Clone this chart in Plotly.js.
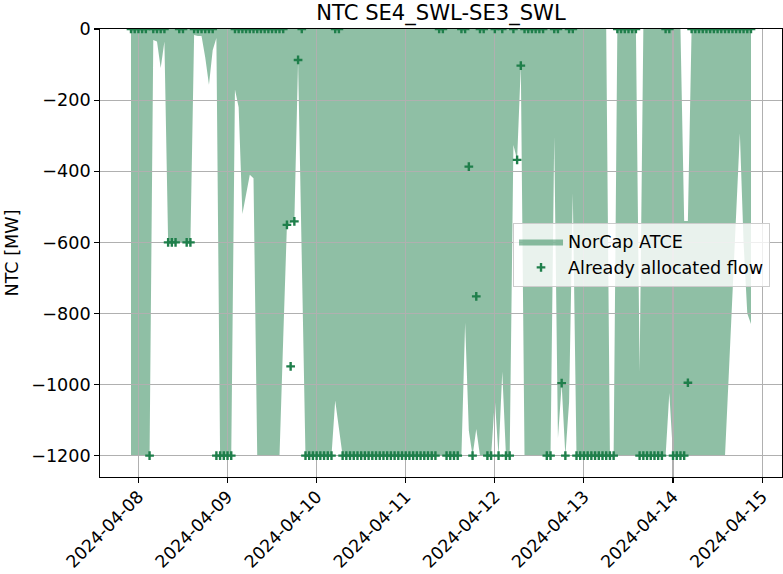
<!DOCTYPE html>
<html><head><meta charset="utf-8">
<script src="https://cdn.plot.ly/plotly-3.0.1.min.js"></script>
<style>html,body{margin:0;padding:0;background:#fff}#chart{width:783px;height:574px}</style>
</head><body><div id="chart"></div>
<script>
// ---- data (hourly, UTC, 2024-04-07 22:00 .. 2024-04-14 21:00) ----
const startUTC = Date.UTC(2024, 3, 7, 22, 0, 0);
const nHours = 168;

// NorCap ATCE band: upper and lower edge per hour [MW]
const atceUpper = [
  0,0,0,0,0,0,0,0,0,0, 0,0,0,0,0,0,0,0,0,0,
  0,0,0,0,0,0,0,0,0,0, 0,0,0,0,0,0,0,0,0,0,
  0,0,0,0,0,0,0,0,0,0, 0,0,0,0,0,0,0,0,0,0,
  0,0,0,0,0,0,0,0,0,0, 0,0,0,0,0,0,0,0,0,0,
  0,0,0,0,0,0,0,0,0,0, 0,0,0,0,0,0,0,0,0,0,
  0,0,0,0,0,0,0,0,0,0, 0,0,0,0,0,0,0,0,0,0,
  0,0,0,0,0,0,0,0,0,-1200, -1200,0,0,0,0,0,0,-963,0,0,
  0,0,0,0,0,0,0,0,0,-540, -540,0,0,0,0,0,0,0,0,0,
  0,0,0,0,0,0,0,0
];
const atceLower = [
  -1200,-1200,-1200,-1200,-1200,-1200,-31,-35,-110,-35,
  -600,-600,-600,-600,-600,-600,-600,-17,-20,-20,
  -80,-157,-60,-25,-1200,-1200,-1200,-1200,-170,-220,
  -520,-460,-410,-420,-1200,-1200,-1200,-1200,-1200,-1200,
  -1200,-870,-551,-545,-541,-90,-700,-1200,-1200,-1200,
  -1200,-1200,-1200,-1200,-1200,-1045,-1120,-1200,-1200,-1200,
  -1200,-1200,-1200,-1200,-1200,-1200,-1200,-1200,-1200,-1200,
  -1200,-1200,-1200,-1200,-1200,-1200,-1200,-1200,-1200,-1200,
  -1200,-1200,-1200,-1200,-1200,-1200,-1200,-1200,-1200,-1200,
  -826,-1130,-1200,-1125,-1200,-1200,-1200,-1200,-1043,-1200,
  -964,-1200,-1200,-326,-368,-103,-1200,-1200,-1200,-1200,
  -1200,-1200,-1200,-1200,-303,-1150,-1000,-1200,-1050,-462,
  -1200,-1200,-1200,-1200,-1200,-1200,-1200,-1200,-1200,-1200,
  -1200,-1200,-1200,-1200,-1200,-1200,-1200,-1200,-1200,-1200,
  -1200,-1200,-1200,-1200,-1200,-1024,-1200,-1200,-1200,-1200,
  -1200,-1200,-1200,-1200,-1200,-1200,-1200,-1200,-1200,-1200,
  -1200,-975,-750,-520,-293,-600,-800,-830
];
// Already allocated flow per hour [MW]
const allocatedFlow = [
  0,0,0,0,0,-1200,0,0,0,0,
  -600,-600,-600,0,0,-600,-600,0,0,0,
  0,0,0,-1200,-1200,-1200,-1200,-1200,0,0,
  0,0,0,0,0,0,0,0,0,0,
  0,0,-551,-949,-541,-87,0,-1200,-1200,-1200,
  -1200,-1200,-1200,-1200,-1200,0,0,-1200,-1200,-1200,
  -1200,-1200,-1200,-1200,-1200,-1200,-1200,-1200,-1200,-1200,
  -1200,-1200,-1200,-1200,-1200,-1200,-1200,-1200,-1200,-1200,
  -1200,-1200,-1200,0,0,-1200,-1200,-1200,-1200,0,
  0,-387,-1200,-752,0,0,-1200,-1200,0,-1200,
  0,-1200,-1200,0,-368,-103,0,0,0,0,
  0,0,-1200,-1200,0,0,-996,-1200,0,0,
  -1200,-1200,-1200,-1200,-1200,-1200,-1200,-1200,-1200,-1200,
  -1200,0,0,0,0,0,0,-1200,-1200,-1200,
  -1200,-1200,-1200,-1200,0,0,-1200,-1200,-1200,-1200,
  -995,0,0,0,0,0,0,0,0,0,
  0,0,0,0,0,0,0,0
];

const yTickVals = [0, -200, -400, -600, -800, -1000, -1200];
const yTickText = ['0', '\u2212200', '\u2212400', '\u2212600', '\u2212800', '\u22121000', '\u22121200'];
const xTickVals = ['2024-04-08', '2024-04-09', '2024-04-10', '2024-04-11', '2024-04-12', '2024-04-13', '2024-04-14', '2024-04-15'];

// ---- build ----
const times = [];
for (let i = 0; i < nHours; i++) {
  times.push(new Date(startUTC + i * 3600000).toISOString().slice(0, 19).replace('T', ' '));
}

const FONT = 'DejaVu Sans, Verdana, sans-serif';
const GREEN = 'rgb(31,127,75)';
const FILL = 'rgba(31,127,75,0.5)';
const XR = ['2024-04-07 13:39', '2024-04-15 05:21'];
const YR = [-1260, 0];

const traces = [
  {x: times, y: atceUpper, type: 'scatter', mode: 'lines', line: {width: 0, color: FILL},
   showlegend: false, hoverinfo: 'skip', xaxis: 'x', yaxis: 'y'},
  {x: times, y: atceLower, type: 'scatter', mode: 'lines', line: {width: 0, color: FILL},
   fill: 'tonexty', fillcolor: FILL, name: 'NorCap ATCE', xaxis: 'x', yaxis: 'y'},
  {x: times, y: allocatedFlow, type: 'scatter', mode: 'markers', name: 'Already allocated flow',
   marker: {symbol: 'cross-thin', size: 6.2, color: GREEN, line: {width: 2.4, color: GREEN}},
   xaxis: 'x2', yaxis: 'y2'}
];

const hiddenAxis = {visible: false, showgrid: false, zeroline: false, fixedrange: true};
const layout = {
  width: 783, height: 574,
  margin: {l: 100, r: 1, t: 29, b: 97, pad: 0},
  paper_bgcolor: '#ffffff', plot_bgcolor: 'rgba(0,0,0,0)',
  font: {family: FONT, size: 17.6, color: '#000'},
  title: {text: 'NTC SE4_SWL-SE3_SWL', font: {family: FONT, size: 21.1, color: '#000'},
          xref: 'paper', x: 0.5, xanchor: 'center', yref: 'container', y: 1 - 13 / 574, yanchor: 'middle'},
  showlegend: true,
  legend: {x: 0.6056, y: 0.568, xanchor: 'left', yanchor: 'top', xref: 'paper', yref: 'paper',
           traceorder: 'normal', itemwidth: 44,
           bgcolor: 'rgba(255,255,255,0.8)', bordercolor: '#cccccc', borderwidth: 1,
           font: {family: FONT, size: 17.6, color: '#000'}, tracegroupgap: 0},
  xaxis: Object.assign({range: XR, type: 'date', anchor: 'y', domain: [0, 1]}, hiddenAxis),
  yaxis: Object.assign({range: YR, anchor: 'x', domain: [0, 1]}, hiddenAxis),
  xaxis2: {
    type: 'date', range: XR, anchor: 'y2', domain: [0, 1],
    tickmode: 'array', tickvals: xTickVals, ticktext: xTickVals, tickangle: -45,
    ticks: 'outside', ticklen: 4.5, tickwidth: 1.1, tickcolor: '#000',
    ticklabelstandoff: -3,
    showgrid: true, gridcolor: '#b0b0b0', gridwidth: 1.1,
    showline: true, mirror: true, linecolor: '#000', linewidth: 1.3,
    zeroline: false, fixedrange: true,
    tickfont: {family: FONT, size: 17.3, color: '#000'}
  },
  yaxis2: {
    range: YR, anchor: 'x2', domain: [0, 1],
    tickmode: 'array', tickvals: yTickVals, ticktext: yTickText,
    ticks: 'outside', ticklen: 4.5, tickwidth: 1.1, tickcolor: '#000',
    showgrid: true, gridcolor: '#b0b0b0', gridwidth: 1.1,
    showline: true, mirror: true, linecolor: '#000', linewidth: 1.3,
    zeroline: false, fixedrange: true,
    tickfont: {family: FONT, size: 17.6, color: '#000'},
    title: {text: 'NTC [MW]', font: {family: FONT, size: 17.6, color: '#000'}, standoff: 8}
  }
};

Plotly.newPlot('chart', traces, layout, {displayModeBar: false, staticPlot: true});
</script>
</body></html>
